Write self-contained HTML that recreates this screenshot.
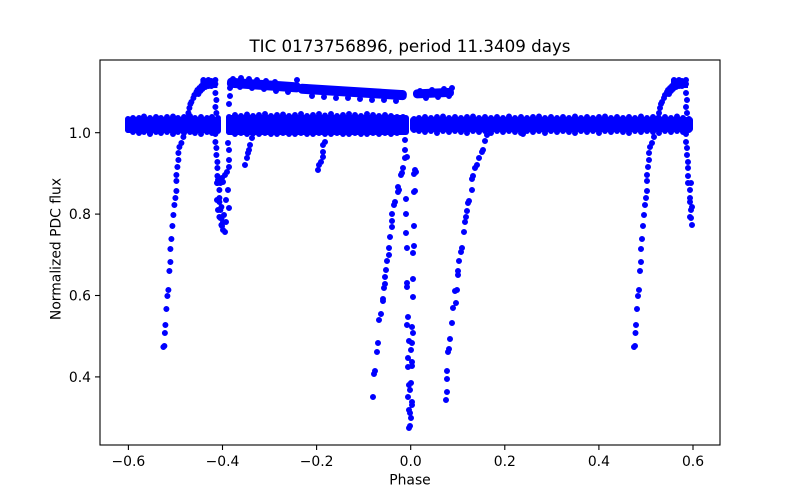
<!DOCTYPE html>
<html><head><meta charset="utf-8"><style>
html,body{margin:0;padding:0;background:#fff;}
svg{display:block;}
text{font-family:"DejaVu Sans","Liberation Sans",sans-serif;fill:#000;}
</style></head><body>
<svg width="800" height="500" viewBox="0 0 800 500" xmlns="http://www.w3.org/2000/svg">
<rect x="0" y="0" width="800" height="500" fill="#fff"/>
<defs>
<clipPath id="rc"><rect x="600" y="0" width="95" height="500"/></clipPath>
<g id="ecl">
<path fill="none" stroke="#00f" stroke-width="6" stroke-linecap="round" d="M634 347h0M635 346h0M635.5 333h0M636 325h0M637 309h0M638 296h0M639 290h0M640 271h0M641 262h0M641 249h0M642 239h0M643 226h0M644 215h0M645 205h0M646 198h0M647 191h0M647 181h0M647 175h0M648 167h0M649 160h0M649 153h0M650 147h0M652 143h0M654 137h0M656 129h0M657 124h0M658 118h0M659 113h0M660 108h0M661 104h0M662 102h0M664 98h0M665 95h0M667 92h0M668 90h0M670 88h0M672 86h0M674 84h0M676 83h0M678 82h0M680 83h0M682 81h0M684 82h0M686 80h0M673 89h0M676 87h0M679 86h0M682 86h0M685 85h0M674 80h0M679 80h0M686 84h0M669 94h0M671 91h0M686 93h0M687 100h0M686 107h0M687 113h0M687 125h0M686 134h0M686 142h0M687 148h0M687 155h0M688 162h0M688 168h0M688 176h0M688 183h0M691 183h0M690 190h0M690 198h0M692 207h0M690 202h0M691 210h0M690 217h0M691 218h0M692 225h0"/>
<rect x="671" y="79" width="17" height="9" fill="#00f"/>
</g>
</defs>

<!-- baseline band cores -->
<rect x="125" y="117" width="96" height="16" rx="3" fill="#00f"/>
<rect x="226" y="115" width="183" height="20" rx="3" fill="#00f"/>
<rect x="410" y="117" width="283" height="15" rx="3" fill="#00f"/>
<!-- ragged edge dots -->
<path fill="none" stroke="#00f" stroke-width="6" stroke-linecap="round" d="
M128 119h0M133 118h0M139 118h0M144 116.5h0M150 118h0M156 117h0M161 118h0M167 117h0M173 116.5h0M178 118h0M184 117h0M190 116h0M195 118h0M201 117h0M207 118h0M212 117h0M218 118h0
M128 130h0M133 132h0M139 133h0M144 132h0M150 133.5h0M156 132h0M161 133h0M167 132h0M173 134h0M178 132h0M184 133h0M190 132h0M195 133h0M201 134h0M207 132h0M212 133h0M218 131h0
M229 117h0M235 115h0M241 116h0M247 114.5h0M253 116h0M259 115h0M265 114h0M271 116h0M277 115h0M283 114.5h0M289 116h0M295 115h0M301 114h0M307 116h0M313 115h0M319 114h0M325 115.5h0M331 114h0M337 116h0M343 115h0M349 114h0M355 115h0M361 116h0M367 114h0M373 115h0M379 116h0M385 115h0M391 116h0M397 117h0M403 117h0
M229 132h0M235 134h0M241 133h0M247 134h0M253 133.5h0M259 134h0M265 133h0M271 134h0M277 134h0M283 133h0M289 134h0M295 134h0M301 133h0M307 134h0M313 134h0M319 133h0M325 134h0M331 134h0M337 133h0M343 134h0M349 134h0M355 133h0M361 134h0M367 134h0M373 133h0M379 134h0M385 133h0M391 134h0M397 133h0M403 132h0
M414 119h0M419 118h0M425 117h0M431 118h0M437 117h0M443 116.5h0M449 118h0M455 117h0M461 118h0M467 117h0M473 116.5h0M479 118h0M485 117h0M491 118h0M497 117h0M503 118h0M509 116.5h0M515 118h0M521 117h0M527 118h0M533 117h0M539 116.5h0M545 118h0M551 117h0M557 118h0M563 117h0M569 118h0M575 116.5h0M581 118h0M587 117h0M593 118h0M599 117h0M605 116.5h0M611 118h0M617 117h0M623 118h0M629 117h0M635 118h0M641 116.5h0M647 118h0M653 117h0M659 118h0M665 117h0M671 118h0M677 116.5h0M683 118h0M689 119h0
M414 130h0M419 131h0M425 132h0M431 131h0M437 133h0M443 131h0M449 132h0M455 131h0M461 132h0M467 133h0M473 131h0M479 132h0M485 131h0M491 133h0M497 131h0M503 132h0M509 131h0M515 132h0M521 133h0M527 131h0M533 132h0M539 131h0M545 133h0M551 131h0M557 132h0M563 131h0M569 132h0M575 133h0M581 131h0M587 132h0M593 131h0M599 133h0M605 131h0M611 132h0M617 131h0M623 132h0M629 133h0M635 131h0M641 132h0M647 131h0M653 132h0M659 133h0M665 131h0M671 132h0M677 131h0M683 132h0M689 130h0"/>

<!-- upper track -->
<g fill="#00f">
<rect x="0" y="-5" width="74" height="10" rx="4" transform="translate(227,82.5) rotate(4)"/>
<rect x="0" y="-5" width="109" height="10" rx="4" transform="translate(298,88.5) rotate(3.6)"/>
<rect x="0" y="-4.5" width="41" height="9" rx="4" transform="translate(413,94) rotate(-2.5)"/>
</g>
<path fill="none" stroke="#00f" stroke-width="6" stroke-linecap="round" d="
M233 79h0M241 78h0M249 79h0M257 80h0M266 81h0M275 82h0M240 87h0M252 88h0M264 89h0M276 91h0M288 92h0
M306 87h0M318 88h0M330 89h0M342 90h0M354 91h0M366 92h0M378 92h0M390 93h0M402 93h0
M312 96h0M324 97h0M336 98h0M348 98h0M360 99h0M372 100h0M384 100h0M396 101h0
M420 91h0M432 90h0M444 89h0M426 98h0M438 97h0M449 96h0"/>

<!-- eclipse branches (right and left copies) -->
<use href="#ecl" clip-path="url(#rc)"/>
<use href="#ecl" transform="translate(-470.6,0)"/>

<!-- other points -->
<path fill="none" stroke="#00f" stroke-width="6" stroke-linecap="round" d="
M228 143h0M229 150h0M229 160h0M229 167h0M227 172h0M225 175h0M223 182h0M228 190h0M226 200h0M229 208h0M224 215h0M223 222h0M223 230h0M225 232h0M222 226h0M226 222h0M229 104h0M230 96h0M230 88h0M229 118h0M229 128h0M217 183h0M218 180h0M222 178h0M217 200h0M218 210h0M222 217h0
M245 165h0M247 158h0M248 153h0M249 150h0M250 145h0M252 138h0M253 133h0
M318 170h0M319 165h0M321 162h0M323 157h0M323 152h0M323 145h0M325 142h0
M405 140h0M405 150h0M407 157h0M405 158h0M403 168h0M402 173h0M401 175h0M398 187h0M398 192h0M399 190h0M395 202h0M394 205h0M392 214h0M392 221h0M392 227h0M390 237h0M389 248h0M389 255h0M387 261h0M386 270h0M385 277h0M385 284h0M384 288h0M383 299h0M383 301h0M381 314h0M379 320h0M378 343h0M377 352h0M375 371h0M374 374h0M373 397h0
M415 170h0M414 174h0M416 172h0M414 192h0M415 191h0M406 199h0M406 214h0M414 226h0M406 233h0M407 248h0M414 246h0M413 253h0M413 279h0M407 283h0M407 287h0M413 297h0M408 317h0M407 325h0M412 327h0M413 333h0M409 341h0M412 343h0M411 350h0M408 358h0M412 362h0M408 367h0M412 366h0M411 383h0M409 385h0M410 390h0M408 397h0M412 402h0M412 405h0M409 410h0M410 413h0M411 418h0M410 426h0M409 428h0
M490 130h0M487 135h0M485 141h0M483 150h0M482 152h0M479 158h0M477 165h0M475 168h0M473 176h0M472 179h0M472 190h0M469 201h0M468 203h0M467 211h0M466 217h0M465 222h0M464 232h0M462 248h0M461 252h0M459 261h0M458 271h0M458 275h0M457 290h0M455 291h0M456 303h0M453 308h0M452 323h0M450 339h0M449 349h0M448 352h0M447 371h0M447 379h0M447 392h0M446 400h0
M523 134h0M150 134h0M297 80h0M452 88h0"/>

<!-- axes frame -->
<rect x="100" y="60" width="620" height="385" fill="none" stroke="#000" stroke-width="1.1"/>

<!-- ticks -->
<g stroke="#000" stroke-width="1.1">
<line x1="128.4" y1="445" x2="128.4" y2="450"/>
<line x1="222.5" y1="445" x2="222.5" y2="450"/>
<line x1="316.6" y1="445" x2="316.6" y2="450"/>
<line x1="410.7" y1="445" x2="410.7" y2="450"/>
<line x1="504.8" y1="445" x2="504.8" y2="450"/>
<line x1="598.9" y1="445" x2="598.9" y2="450"/>
<line x1="693" y1="445" x2="693" y2="450"/>
<line x1="95" y1="132.7" x2="100" y2="132.7"/>
<line x1="95" y1="214.1" x2="100" y2="214.1"/>
<line x1="95" y1="295.5" x2="100" y2="295.5"/>
<line x1="95" y1="376.9" x2="100" y2="376.9"/>
</g>
<g font-size="13.9" text-anchor="middle">
<text x="128.4" y="466">−0.6</text>
<text x="222.5" y="466">−0.4</text>
<text x="316.6" y="466">−0.2</text>
<text x="410.7" y="466">0.0</text>
<text x="504.8" y="466">0.2</text>
<text x="598.9" y="466">0.4</text>
<text x="693" y="466">0.6</text>
</g>
<g font-size="13.9" text-anchor="end">
<text x="91" y="137.8">1.0</text>
<text x="91" y="219.2">0.8</text>
<text x="91" y="300.6">0.6</text>
<text x="91" y="382">0.4</text>
</g>
<text x="410" y="484.5" font-size="13.9" text-anchor="middle">Phase</text>
<text x="0" y="0" font-size="13.9" text-anchor="middle" transform="translate(60.5,249) rotate(-90)">Normalized PDC flux</text>
<text x="410" y="52" font-size="16.7" text-anchor="middle">TIC 0173756896, period 11.3409 days</text>
</svg>
</body></html>
